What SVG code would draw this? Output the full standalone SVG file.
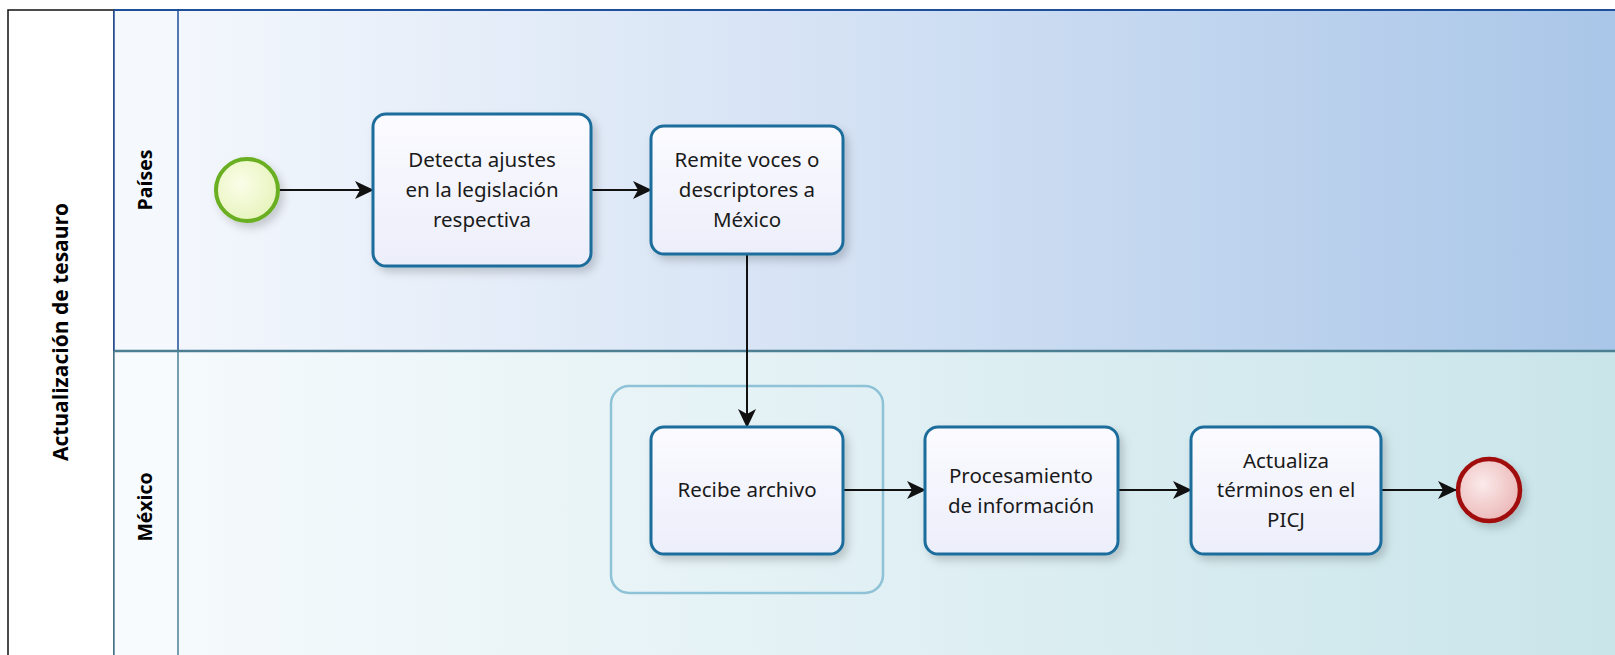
<svg xmlns="http://www.w3.org/2000/svg" width="1615" height="655" viewBox="0 0 1615 655">
<defs>
<linearGradient id="lane1" x1="0" y1="0" x2="1" y2="0">
<stop offset="0" stop-color="#f6f9fd"/>
<stop offset="0.5" stop-color="#d3e1f4"/>
<stop offset="1" stop-color="#a9c6e8"/>
</linearGradient>
<linearGradient id="lane2" x1="0" y1="0" x2="1" y2="0">
<stop offset="0" stop-color="#f7fbfd"/>
<stop offset="0.5" stop-color="#e1f0f4"/>
<stop offset="1" stop-color="#c9e5ea"/>
</linearGradient>
<linearGradient id="taskFill" x1="0" y1="0" x2="0" y2="1">
<stop offset="0" stop-color="#fbfbff"/>
<stop offset="1" stop-color="#eceefa"/>
</linearGradient>
<radialGradient id="startFill" cx="0.4" cy="0.4" r="0.7">
<stop offset="0" stop-color="#fbfde8"/>
<stop offset="1" stop-color="#e4f3b8"/>
</radialGradient>
<radialGradient id="endFill" cx="0.4" cy="0.4" r="0.7">
<stop offset="0" stop-color="#fbeaea"/>
<stop offset="1" stop-color="#eab3b3"/>
</radialGradient>
<filter id="shadow" x="-20%" y="-20%" width="150%" height="150%">
<feDropShadow dx="4" dy="5" stdDeviation="4" flood-color="#000" flood-opacity="0.18"/>
</filter>
<marker id="arrow" viewBox="0 0 20 20" refX="18" refY="10" markerWidth="20" markerHeight="20" markerUnits="userSpaceOnUse" orient="auto">
<path d="M0,1 L19,10 L0,19 L5,10 Z" fill="#111"/>
</marker>
<style>
.task{fill:url(#taskFill);stroke:#1d6c9c;stroke-width:3;filter:url(#shadow)}
.lbl{font-family:"Noto Sans","Open Sans","Liberation Sans",sans-serif;font-size:20.5px;fill:#1a1a1a;text-anchor:middle}
.hdr{font-family:"Open Sans","Noto Sans","Liberation Sans",sans-serif;font-size:19.5px;font-weight:bold;fill:#000;text-anchor:middle}
.pool{font-size:21px}
.flow{stroke:#111;stroke-width:2;fill:none;marker-end:url(#arrow)}
</style>
</defs>
<rect x="0" y="0" width="1615" height="655" fill="#ffffff"/>

<g id="pool">
<rect x="8" y="10" width="106" height="660" fill="#ffffff" stroke="#111" stroke-width="1.5"/>
<text class="hdr pool" transform="translate(68,332) rotate(-90)">Actualización de tesauro</text>
</g>

<g id="lane-paises">
<rect x="114" y="10" width="1510" height="341" fill="url(#lane1)"/>
<rect x="114" y="10" width="64" height="341" fill="#f5f8fd"/>
<line x1="114" y1="10" x2="1615" y2="10" stroke="#1f4e9a" stroke-width="2"/>
<line x1="114" y1="10" x2="114" y2="351" stroke="#1f4e9a" stroke-width="1.5"/>
<line x1="178" y1="10" x2="178" y2="351" stroke="#1f4e9a" stroke-width="1.5"/>
<text class="hdr" transform="translate(152,180) rotate(-90)">Países</text>
</g>

<g id="lane-mexico">
<rect x="114" y="351" width="1510" height="320" fill="url(#lane2)"/>
<rect x="114" y="351" width="64" height="320" fill="#f7fbfd"/>
<line x1="114" y1="351" x2="114" y2="670" stroke="#4b7f95" stroke-width="1.5"/>
<line x1="178" y1="351" x2="178" y2="670" stroke="#4b7f95" stroke-width="1.5"/>
<line x1="114" y1="351" x2="1615" y2="351" stroke="#4d7f93" stroke-width="2.5"/>
<text class="hdr" transform="translate(152,507) rotate(-90)">México</text>
</g>

<g id="group-box">
<rect x="611" y="386" width="272" height="207" rx="18" fill="none" stroke="#8ec2d6" stroke-width="2.5"/>
</g>

<g id="connectors">
<line class="flow" x1="279" y1="190" x2="373" y2="190"/>
<line class="flow" x1="591" y1="190" x2="651" y2="190"/>
<line class="flow" x1="747" y1="254" x2="747" y2="427"/>
<line class="flow" x1="843" y1="490" x2="925" y2="490"/>
<line class="flow" x1="1118" y1="490" x2="1191" y2="490"/>
<line class="flow" x1="1381" y1="490" x2="1456" y2="490"/>
</g>

<g id="start">
<circle cx="247" cy="190" r="31" fill="url(#startFill)" stroke="#6aaf22" stroke-width="4" filter="url(#shadow)"/>
</g>

<g id="task-detecta">
<rect class="task" x="373" y="114" width="218" height="152" rx="13"/>
<text class="lbl" x="482" y="167">Detecta ajustes</text>
<text class="lbl" x="482" y="197">en la legislación</text>
<text class="lbl" x="482" y="227">respectiva</text>
</g>

<g id="task-remite">
<rect class="task" x="651" y="126" width="192" height="128" rx="13"/>
<text class="lbl" x="747" y="167">Remite voces o</text>
<text class="lbl" x="747" y="197">descriptores a</text>
<text class="lbl" x="747" y="227">México</text>
</g>

<g id="task-recibe">
<rect class="task" x="651" y="427" width="192" height="127" rx="13"/>
<text class="lbl" x="747" y="497">Recibe archivo</text>
</g>

<g id="task-procesamiento">
<rect class="task" x="925" y="427" width="193" height="127" rx="13"/>
<text class="lbl" x="1021" y="483">Procesamiento</text>
<text class="lbl" x="1021" y="513">de información</text>
</g>

<g id="task-actualiza">
<rect class="task" x="1191" y="427" width="190" height="127" rx="13"/>
<text class="lbl" x="1286" y="468">Actualiza</text>
<text class="lbl" x="1286" y="497">términos en el</text>
<text class="lbl" x="1286" y="527">PICJ</text>
</g>

<g id="end">
<circle cx="1489" cy="490" r="31" fill="url(#endFill)" stroke="#a10f0f" stroke-width="4.5" filter="url(#shadow)"/>
</g>
</svg>
